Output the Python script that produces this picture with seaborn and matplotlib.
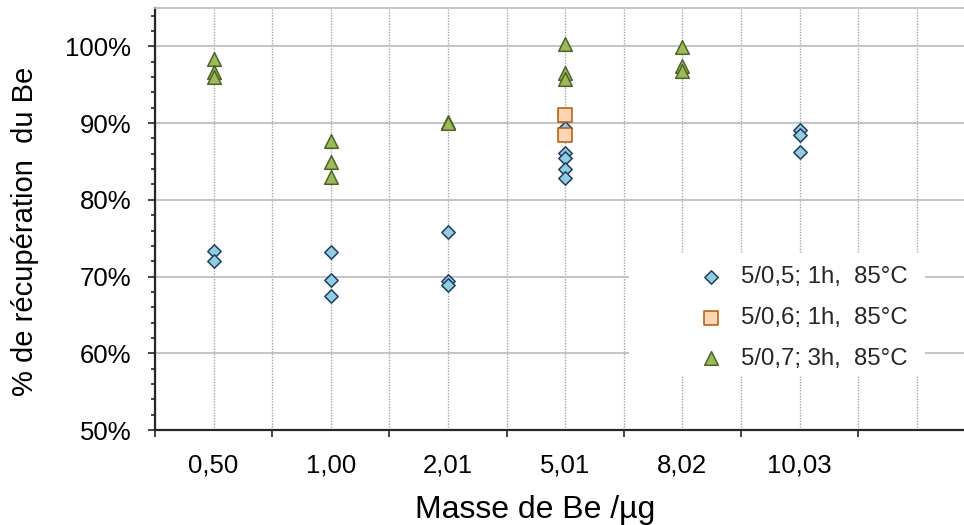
import matplotlib
matplotlib.use("Agg")
import matplotlib.pyplot as plt
import seaborn as sns
from matplotlib.patches import Rectangle
from matplotlib.ticker import FixedLocator, PercentFormatter

# ---------------- data ----------------
categories = ["0,50", "1,00", "2,01", "5,01", "8,02", "10,03"]
series_labels = ["5/0,5; 1h,  85°C", "5/0,6; 1h,  85°C", "5/0,7; 3h,  85°C"]

s1_mass = ["0,50", "0,50", "1,00", "1,00", "1,00", "2,01", "2,01", "2,01",
           "5,01", "5,01", "5,01", "5,01", "5,01", "10,03", "10,03", "10,03"]
s1_rec = [73.3, 72.0, 73.2, 69.6, 67.5, 75.8, 69.4, 68.9,
          89.4, 86.1, 85.4, 84.0, 82.9, 89.1, 88.4, 86.2]

s2_mass = ["5,01", "5,01"]
s2_rec = [91.1, 88.4]

s3_mass = ["0,50", "0,50", "0,50", "1,00", "1,00", "1,00", "2,01", "2,01",
           "5,01", "5,01", "5,01", "8,02", "8,02", "8,02"]
s3_rec = [98.3, 96.7, 96.0, 87.7, 84.9, 83.0, 90.2, 90.0,
          100.3, 96.5, 95.8, 99.9, 97.4, 96.8]

x_label = "Masse de Be /µg"
y_label = "% de récupération  du Be"

# ---------------- style ----------------
sns.set_style("white")
plt.rcParams['font.family'] = ['Liberation Sans', 'DejaVu Sans']

W, H = 964, 525
fig = plt.figure(figsize=(W / 100, H / 100), dpi=100)
ax = fig.add_axes([155 / W, 1 - 430 / H, 1 - 155 / W, (430 - 8) / H])

styles = [
    dict(marker="D", color="#93CDDD", edgecolor="#1F3E66", size=6.8),
    dict(marker="s", color="#FCD5B5", edgecolor="#B65708", size=9.8),
    dict(marker="^", color="#9BBB59", edgecolor="#4F6228", size=9.8),
]
datasets = [(s1_mass, s1_rec), (s2_mass, s2_rec), (s3_mass, s3_rec)]

for (xs, ys), st, lab in zip(datasets, styles, series_labels):
    sns.stripplot(x=xs, y=ys, order=categories, jitter=False,
                  marker=st["marker"], color=st["color"],
                  edgecolor=st["edgecolor"], linewidth=1.1, size=st["size"],
                  label=lab, zorder=3, ax=ax)

# ---------------- axes ----------------
ax.set_xlim(-0.5, -0.5 + 809 / 117.2)
ax.set_ylim(50, 105)

ax.set_xticks(range(len(categories) + 1))
ax.set_xticklabels(categories + [""])
ax.xaxis.set_minor_locator(FixedLocator([i - 0.5 for i in range(len(categories) + 2)]))

ax.set_yticks(range(50, 101, 10))
ax.yaxis.set_minor_locator(FixedLocator([v for v in range(52, 105, 2) if v % 10 != 0]))
ax.yaxis.set_major_formatter(PercentFormatter(xmax=100, decimals=0))

ax.tick_params(axis='x', which='major', length=0, pad=17, labelsize=18.5, labelcolor='black')
ax.tick_params(axis='x', which='minor', length=5, width=1.2, direction='out', color='#262626')
ax.tick_params(axis='y', which='major', length=5, width=1.2, direction='out', color='#262626',
               pad=12, labelsize=18.5, labelcolor='black')
ax.tick_params(axis='y', which='minor', length=3, width=1.2, direction='out', color='#262626')
ax.tick_params(bottom=True, left=True, which='both')

ax.grid(False)
ax.grid(axis='x', which='both', color='#A6A6A6', linestyle=(0, (1, 1)), linewidth=1.0)
ax.grid(axis='y', which='major', color='#BFBFBF', linestyle='-', linewidth=1.3)
ax.set_axisbelow(True)

for side in ("left", "bottom"):
    ax.spines[side].set_color('#262626')
    ax.spines[side].set_linewidth(1.6)
ax.spines['top'].set_color('#BFBFBF')
ax.spines['top'].set_linewidth(1.3)
ax.spines['right'].set_visible(False)

ax.set_xlabel(x_label, fontsize=23, color='black')
ax.set_ylabel(y_label, fontsize=21, color='black')
ax.xaxis.set_label_coords(0.47, -0.153)
ax.yaxis.set_label_coords(-0.1434, 0.4716)

# white legend area hiding the grid (as in the original chart)
ax.add_patch(Rectangle((629 / W, 1 - 376 / H), (925 - 629) / W, (376 - 254) / H,
                       transform=fig.transFigure, facecolor='white', edgecolor='none',
                       zorder=1, clip_on=False))

# ---------------- legend ----------------
handles, labels = ax.get_legend_handles_labels()
uniq = {}
for h, l in zip(handles, labels):
    if l not in uniq:
        uniq[l] = h
ax.legend(list(uniq.values()), list(uniq.keys()), loc='upper left',
          bbox_to_anchor=(677 / W, 1 - 259 / H), bbox_transform=fig.transFigure,
          frameon=False, fontsize=17.3, handlelength=2.2, handletextpad=0.15,
          labelspacing=0.78, borderpad=0.3, borderaxespad=0, scatterpoints=1)

fig.savefig("out.png", dpi=100)
